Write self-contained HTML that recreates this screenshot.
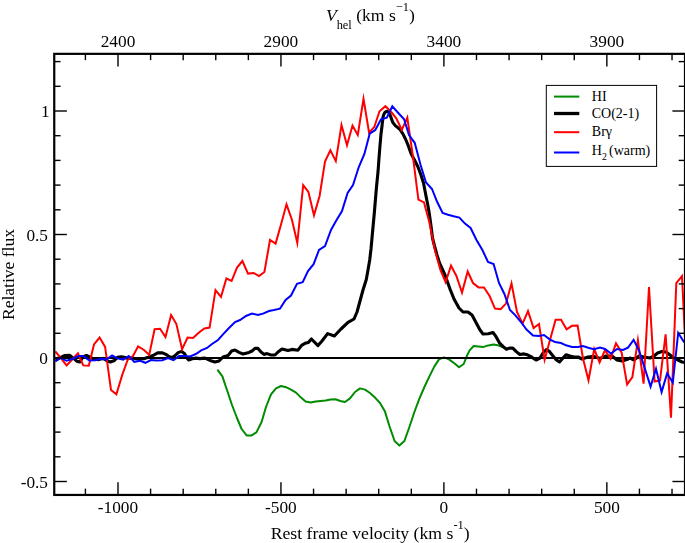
<!DOCTYPE html>
<html><head><meta charset="utf-8"><title>spectrum</title>
<style>
html,body{margin:0;padding:0;background:#fff;}
body{width:685px;height:543px;overflow:hidden;}
svg{display:block;}
text{font-family:"Liberation Serif",serif;fill:#000;}
</style></head><body>
<svg width="685" height="543" viewBox="0 0 685 543">
<rect x="0" y="0" width="685" height="543" fill="#fff"/>
<defs><clipPath id="c"><rect x="54.25" y="53.85" width="630.75" height="441.09999999999997"/></clipPath></defs>

<g clip-path="url(#c)" fill="none" stroke-linejoin="round" stroke-linecap="butt">
<polyline points="217.4,369.6 222.4,376.4 227.0,390.0 232.0,405.0 237.0,418.0 241.6,429.0 246.6,435.4 251.6,435.4 256.4,432.4 261.6,422.0 266.0,407.0 271.0,394.4 276.0,388.4 281.0,386.0 286.0,387.2 291.0,389.6 296.0,392.6 301.0,397.6 305.6,401.6 310.6,402.6 315.6,401.6 320.6,401.0 325.6,400.6 330.6,399.6 335.6,399.2 340.3,401.0 345.0,402.0 350.0,398.4 355.0,392.0 360.0,388.4 365.0,389.6 370.0,393.0 375.0,397.6 380.0,403.0 385.0,411.6 389.4,426.0 394.6,441.0 399.4,445.6 404.4,441.0 409.4,427.0 414.4,412.0 419.0,399.6 424.4,387.0 429.4,376.4 434.4,366.4 439.0,359.4 444.0,357.4 449.0,359.4 454.0,363.0 459.0,367.3 463.7,364.0 466.7,356.3 469.6,350.4 473.7,346.0 478.4,346.4 483.6,346.9 488.3,345.4 493.5,344.6 497.6,345.2 501.7,346.9 506.4,348.5" stroke="#008b00" stroke-width="2"/>
<line x1="54.25" y1="358.0" x2="685.0" y2="358.0" stroke="#000" stroke-width="1.8"/>
<polyline points="55.3,359.3 60.8,357.3 64.8,355.5 69.5,355.3 73.6,358.4 77.1,361.4 80.0,361.9 83.0,356.7 86.5,355.5 90.5,357.3 94.6,359.3 98.7,359.6 103.4,358.4 106.9,360.8 110.4,361.9 113.9,360.8 117.4,357.3 120.9,356.7 124.4,357.3 127.9,358.4 132.0,358.1 136.7,359.0 143.7,358.8 148.4,357.3 153.0,355.5 157.7,352.9 162.4,352.9 165.9,354.4 169.4,356.7 172.3,357.6 175.2,355.5 178.1,352.6 181.6,351.4 184.6,353.8 186.9,357.9 188.7,360.0 192.2,358.8 196.2,358.1 199.7,358.6 205.0,358.1 210.0,360.4 215.0,362.0 219.0,361.0 223.0,357.0 228.0,355.6 231.6,351.0 235.0,350.0 239.0,352.4 243.0,354.0 249.0,352.4 252.0,351.0 255.0,348.4 258.0,348.4 261.0,352.0 264.0,354.4 267.0,353.6 271.0,355.0 275.0,355.0 278.0,352.0 282.0,349.0 288.0,350.4 292.0,349.4 298.0,350.2 301.6,345.3 305.0,343.3 308.4,342.4 311.4,339.0 318.0,345.6 322.0,341.0 327.6,333.6 334.4,336.0 341.0,329.0 348.0,322.4 354.0,319.0 357.0,312.0 360.0,301.0 363.0,290.0 366.3,279.5 368.0,270.0 369.7,260.0 371.0,249.0 372.0,238.0 373.2,225.0 374.4,212.0 376.4,188.0 378.0,172.0 379.0,158.0 380.0,145.5 381.0,134.0 382.0,126.0 383.0,117.0 384.0,114.0 385.0,112.4 386.8,111.2 389.1,112.3 390.7,116.6 392.7,122.2 395.3,125.6 399.9,129.3 402.9,133.9 405.5,139.0 408.0,145.0 411.0,153.5 415.0,161.0 418.0,167.0 421.0,175.0 423.5,183.0 426.0,196.0 428.0,206.0 429.5,215.0 431.0,226.0 432.5,238.0 434.5,246.0 437.0,255.0 439.5,263.0 445.0,275.0 450.0,289.0 454.0,299.0 459.0,308.0 463.0,312.0 468.0,312.0 472.0,315.0 476.0,322.5 480.0,330.0 483.0,334.0 488.3,333.7 493.0,332.5 495.9,336.4 499.4,342.8 502.9,346.4 506.4,349.3 509.3,348.1 512.8,348.1 516.3,351.6 519.8,354.5 523.9,353.9 527.4,354.8 530.9,356.6 536.0,360.0 540.0,358.0 543.0,353.0 546.4,349.6 549.0,351.0 553.0,356.0 556.0,359.6 559.5,362.0 563.0,358.0 566.0,354.7 570.0,356.0 574.0,357.0 578.0,357.0 582.0,359.0 588.0,357.0 594.0,356.4 600.0,358.4 606.0,356.0 612.0,356.0 617.0,360.0 622.0,361.0 627.0,359.6 630.0,358.0 634.0,360.0 639.0,356.0 644.0,357.0 650.0,358.0 654.0,356.0 657.6,353.0 662.0,351.6 666.0,352.0 670.0,355.0 674.0,358.0 678.0,360.0 682.0,362.0 686.0,362.5" stroke="#000" stroke-width="3.1"/>
<polyline points="55.3,351.4 61.1,358.4 66.6,365.4 72.2,359.5 77.9,353.4 83.3,365.4 88.8,365.8 94.0,344.4 99.6,337.6 105.1,346.9 111.0,390.0 116.4,394.4 122.0,375.6 127.6,360.0 133.0,356.0 138.1,346.4 144.0,350.0 149.2,354.9 154.6,329.2 160.0,328.8 165.5,337.1 171.1,315.0 176.4,324.0 182.1,349.2 187.6,337.6 193.0,338.0 199.0,332.4 204.4,328.4 209.6,327.6 215.5,290.1 221.0,296.8 226.4,278.5 231.6,281.0 237.0,267.6 242.4,261.0 248.0,273.6 253.6,273.0 259.0,276.0 264.4,272.0 270.0,240.0 275.6,243.6 281.0,224.4 286.5,204.3 292.0,220.0 297.3,242.9 303.2,185.1 308.4,192.0 314.0,215.4 319.6,196.0 325.0,161.6 330.4,150.3 335.8,161.1 341.5,125.1 347.0,145.2 352.5,125.6 357.8,135.0 363.5,98.8 369.1,132.7 374.3,127.0 379.5,111.3 385.4,106.2 390.8,111.5 396.3,118.3 401.8,129.8 407.3,117.6 413.0,157.0 418.4,199.6 424.0,202.4 429.4,222.5 435.0,250.5 440.4,270.0 445.6,282.2 451.0,265.6 456.4,276.0 462.0,292.6 467.7,271.5 473.0,283.0 478.6,287.4 484.0,287.4 489.6,296.0 495.0,308.6 500.6,309.2 506.0,303.6 511.5,283.4 517.0,312.0 522.6,323.6 528.0,311.1 533.6,328.0 539.0,324.0 544.6,359.7 550.0,340.0 555.6,319.8 561.0,319.8 566.6,329.3 572.0,325.8 577.6,325.5 583.0,358.5 588.5,380.3 594.2,349.1 599.6,362.4 605.0,350.1 610.6,358.7 616.0,343.3 621.6,352.4 627.1,384.4 632.4,377.0 637.9,340.2 643.6,383.6 649.0,287.0 654.6,381.6 660.0,380.5 665.6,334.4 671.0,417.6 676.3,283.2 682.0,276.2 687.7,392.0" stroke="#ff0000" stroke-width="2" stroke-linejoin="miter" stroke-miterlimit="10"/>
<polyline points="55.3,361.4 60.8,357.9 66.6,360.8 72.4,359.0 78.3,356.1 83.5,356.1 89.4,360.4 95.2,360.2 101.0,358.8 106.3,359.6 112.1,355.5 117.4,358.4 123.2,359.6 128.8,356.1 134.3,361.9 140.2,360.8 145.4,362.8 150.9,360.0 156.5,360.5 162.4,360.2 168.0,358.1 173.5,360.2 179.0,356.1 184.6,356.1 190.2,356.5 195.8,354.0 201.2,350.4 207.0,348.0 212.0,344.0 218.0,340.0 223.0,334.4 229.0,328.0 235.0,322.0 240.0,320.0 246.0,316.0 252.0,313.6 258.0,315.0 263.0,313.6 269.0,311.0 274.0,310.0 280.0,308.6 285.6,300.0 291.0,295.5 297.0,283.8 302.7,282.2 308.0,271.0 313.6,264.2 319.0,250.0 325.0,246.0 331.0,230.0 336.0,221.0 342.0,211.0 347.6,193.0 353.0,185.0 358.8,167.0 364.4,154.0 369.7,133.7 375.3,130.0 381.0,119.3 386.8,117.6 392.3,106.3 398.3,113.0 404.1,119.3 409.0,135.0 414.7,142.8 420.6,165.0 426.0,182.5 432.0,189.0 437.0,201.5 442.6,213.0 448.0,214.7 453.7,216.3 459.4,217.6 465.0,223.6 470.6,228.0 476.5,240.0 482.4,250.0 488.0,262.0 493.6,264.0 499.0,283.0 504.4,294.0 510.0,310.0 515.6,315.6 521.0,322.0 526.5,329.5 533.0,335.6 539.0,336.0 544.0,335.0 550.0,339.6 555.0,342.0 561.0,343.0 566.0,345.3 572.0,347.0 578.0,347.0 583.0,346.0 589.0,348.0 594.0,349.2 600.0,347.6 605.0,349.0 611.0,353.6 617.0,349.0 623.0,350.0 628.0,347.6 633.6,339.8 639.0,350.5 645.0,369.0 650.6,386.6 656.0,368.8 661.6,392.1 667.1,373.4 672.8,382.6 678.2,333.0 684.0,342.0 689.0,345.0" stroke="#0000ff" stroke-width="2" stroke-linejoin="miter" stroke-miterlimit="10"/>
</g>
<g stroke="#000" stroke-width="1.4">
<line x1="85.41" y1="494.95" x2="85.41" y2="488.65"/>
<line x1="85.41" y1="53.85" x2="85.41" y2="60.15"/>
<line x1="118.00" y1="494.95" x2="118.00" y2="482.34999999999997"/>
<line x1="118.00" y1="53.85" x2="118.00" y2="66.45"/>
<line x1="150.59" y1="494.95" x2="150.59" y2="488.65"/>
<line x1="150.59" y1="53.85" x2="150.59" y2="60.15"/>
<line x1="183.18" y1="494.95" x2="183.18" y2="488.65"/>
<line x1="183.18" y1="53.85" x2="183.18" y2="60.15"/>
<line x1="215.77" y1="494.95" x2="215.77" y2="488.65"/>
<line x1="215.77" y1="53.85" x2="215.77" y2="60.15"/>
<line x1="248.36" y1="494.95" x2="248.36" y2="488.65"/>
<line x1="248.36" y1="53.85" x2="248.36" y2="60.15"/>
<line x1="280.95" y1="494.95" x2="280.95" y2="482.34999999999997"/>
<line x1="280.95" y1="53.85" x2="280.95" y2="66.45"/>
<line x1="313.54" y1="494.95" x2="313.54" y2="488.65"/>
<line x1="313.54" y1="53.85" x2="313.54" y2="60.15"/>
<line x1="346.13" y1="494.95" x2="346.13" y2="488.65"/>
<line x1="346.13" y1="53.85" x2="346.13" y2="60.15"/>
<line x1="378.72" y1="494.95" x2="378.72" y2="488.65"/>
<line x1="378.72" y1="53.85" x2="378.72" y2="60.15"/>
<line x1="411.31" y1="494.95" x2="411.31" y2="488.65"/>
<line x1="411.31" y1="53.85" x2="411.31" y2="60.15"/>
<line x1="443.90" y1="494.95" x2="443.90" y2="482.34999999999997"/>
<line x1="443.90" y1="53.85" x2="443.90" y2="66.45"/>
<line x1="476.49" y1="494.95" x2="476.49" y2="488.65"/>
<line x1="476.49" y1="53.85" x2="476.49" y2="60.15"/>
<line x1="509.08" y1="494.95" x2="509.08" y2="488.65"/>
<line x1="509.08" y1="53.85" x2="509.08" y2="60.15"/>
<line x1="541.67" y1="494.95" x2="541.67" y2="488.65"/>
<line x1="541.67" y1="53.85" x2="541.67" y2="60.15"/>
<line x1="574.26" y1="494.95" x2="574.26" y2="488.65"/>
<line x1="574.26" y1="53.85" x2="574.26" y2="60.15"/>
<line x1="606.85" y1="494.95" x2="606.85" y2="482.34999999999997"/>
<line x1="606.85" y1="53.85" x2="606.85" y2="66.45"/>
<line x1="639.44" y1="494.95" x2="639.44" y2="488.65"/>
<line x1="639.44" y1="53.85" x2="639.44" y2="60.15"/>
<line x1="672.03" y1="494.95" x2="672.03" y2="488.65"/>
<line x1="672.03" y1="53.85" x2="672.03" y2="60.15"/>
<line x1="54.25" y1="481.50" x2="66.85" y2="481.50"/>
<line x1="685.0" y1="481.50" x2="672.4" y2="481.50"/>
<line x1="54.25" y1="456.80" x2="60.55" y2="456.80"/>
<line x1="685.0" y1="456.80" x2="678.7" y2="456.80"/>
<line x1="54.25" y1="432.10" x2="60.55" y2="432.10"/>
<line x1="685.0" y1="432.10" x2="678.7" y2="432.10"/>
<line x1="54.25" y1="407.40" x2="60.55" y2="407.40"/>
<line x1="685.0" y1="407.40" x2="678.7" y2="407.40"/>
<line x1="54.25" y1="382.70" x2="60.55" y2="382.70"/>
<line x1="685.0" y1="382.70" x2="678.7" y2="382.70"/>
<line x1="54.25" y1="358.00" x2="66.85" y2="358.00"/>
<line x1="685.0" y1="358.00" x2="672.4" y2="358.00"/>
<line x1="54.25" y1="333.30" x2="60.55" y2="333.30"/>
<line x1="685.0" y1="333.30" x2="678.7" y2="333.30"/>
<line x1="54.25" y1="308.60" x2="60.55" y2="308.60"/>
<line x1="685.0" y1="308.60" x2="678.7" y2="308.60"/>
<line x1="54.25" y1="283.90" x2="60.55" y2="283.90"/>
<line x1="685.0" y1="283.90" x2="678.7" y2="283.90"/>
<line x1="54.25" y1="259.20" x2="60.55" y2="259.20"/>
<line x1="685.0" y1="259.20" x2="678.7" y2="259.20"/>
<line x1="54.25" y1="234.50" x2="66.85" y2="234.50"/>
<line x1="685.0" y1="234.50" x2="672.4" y2="234.50"/>
<line x1="54.25" y1="209.80" x2="60.55" y2="209.80"/>
<line x1="685.0" y1="209.80" x2="678.7" y2="209.80"/>
<line x1="54.25" y1="185.10" x2="60.55" y2="185.10"/>
<line x1="685.0" y1="185.10" x2="678.7" y2="185.10"/>
<line x1="54.25" y1="160.40" x2="60.55" y2="160.40"/>
<line x1="685.0" y1="160.40" x2="678.7" y2="160.40"/>
<line x1="54.25" y1="135.70" x2="60.55" y2="135.70"/>
<line x1="685.0" y1="135.70" x2="678.7" y2="135.70"/>
<line x1="54.25" y1="111.00" x2="66.85" y2="111.00"/>
<line x1="685.0" y1="111.00" x2="672.4" y2="111.00"/>
<line x1="54.25" y1="86.30" x2="60.55" y2="86.30"/>
<line x1="685.0" y1="86.30" x2="678.7" y2="86.30"/>
<line x1="54.25" y1="61.60" x2="60.55" y2="61.60"/>
<line x1="685.0" y1="61.60" x2="678.7" y2="61.60"/>
</g>
<rect x="54.25" y="53.85" width="630.75" height="441.09999999999997" fill="none" stroke="#000" stroke-width="2.2"/>
<g style="opacity:0.999">
<text x="118.0" y="513" font-size="17.3" text-anchor="middle">-1000</text>
<text x="118.0" y="47.4" font-size="17.3" text-anchor="middle">2400</text>
<text x="280.9" y="513" font-size="17.3" text-anchor="middle">-500</text>
<text x="280.9" y="47.4" font-size="17.3" text-anchor="middle">2900</text>
<text x="443.9" y="513" font-size="17.3" text-anchor="middle">0</text>
<text x="443.9" y="47.4" font-size="17.3" text-anchor="middle">3400</text>
<text x="606.9" y="513" font-size="17.3" text-anchor="middle">500</text>
<text x="606.9" y="47.4" font-size="17.3" text-anchor="middle">3900</text>
<text x="48.0" y="487.5" font-size="17.3" text-anchor="end">-0.5</text>
<text x="48.0" y="364.0" font-size="17.3" text-anchor="end">0</text>
<text x="48.0" y="240.5" font-size="17.3" text-anchor="end">0.5</text>
<text x="49.7" y="117.0" font-size="17.3" text-anchor="end">1</text>
<text x="270.7" y="538.8" font-size="17.7">Rest frame velocity (km s<tspan font-size="12.5" dy="-9.4">-1</tspan><tspan dy="9.4">)</tspan></text>
<text x="325.9" y="21" font-size="17.6"><tspan font-style="italic">V</tspan><tspan font-size="12.4" dy="7.6">hel</tspan><tspan dy="-7.6"> (km s</tspan><tspan font-size="12.4" dy="-10">−1</tspan><tspan dy="10">)</tspan></text>
<text transform="translate(14.2,320) rotate(-90)" font-size="17.5">Relative flux</text>
<rect x="546.3" y="85.4" width="110.3" height="81" fill="#fff" stroke="#000" stroke-width="1"/>
<line x1="554" y1="96.6" x2="579.3" y2="96.6" stroke="#008b00" stroke-width="2"/>
<line x1="554" y1="113.5" x2="579.3" y2="113.5" stroke="#000" stroke-width="3.3"/>
<line x1="554" y1="132.2" x2="579.3" y2="132.2" stroke="#ff0000" stroke-width="2"/>
<line x1="554" y1="152.5" x2="579.3" y2="152.5" stroke="#0000ff" stroke-width="2"/>
<text x="591.8" y="101.4" font-size="14.0">HI</text>
<text x="591.7" y="117.8" font-size="14.0">CO(2-1)</text>
<text x="591.8" y="136.3" font-size="14.0">Brγ</text>
<text x="591.8" y="155.1" font-size="14.0">H<tspan font-size="9.9" dy="5">2</tspan><tspan dy="-5" dx="-1.3"> (warm)</tspan></text>
</g>
</svg></body></html>
